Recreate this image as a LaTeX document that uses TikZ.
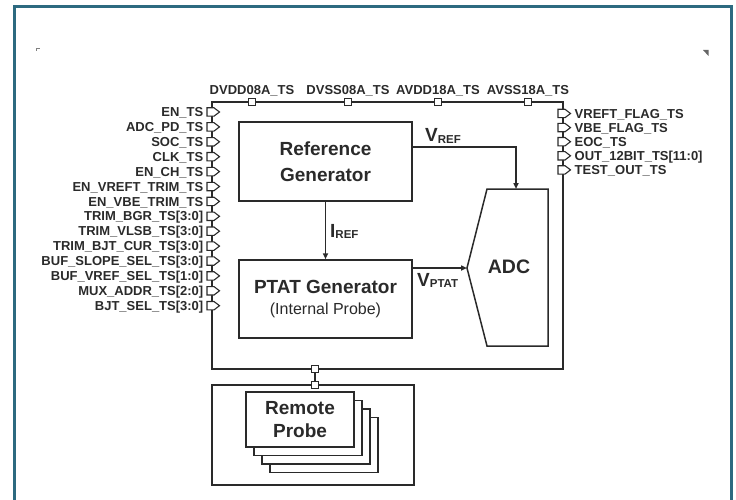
\documentclass[tikz,border=0pt]{standalone}
\usepackage{fontspec}
\setmainfont{Liberation Sans}
\usetikzlibrary{arrows.meta}

\definecolor{framecol}{HTML}{2D6A80}
\definecolor{ink}{HTML}{2A2A2A}

% big letter with a small subscript
\newcommand{\sigsub}[2]{{\fontsize{19}{19}\selectfont\bfseries #1}{\fontsize{11.5}{11.5}\selectfont\bfseries\raisebox{-1.5pt}{#2}}}

\begin{document}
\begin{tikzpicture}[x=1pt, y=-1pt,
  wire/.style={draw=ink, line width=1.5pt},
  blk/.style={draw=ink, line width=1.5pt, fill=white, align=center, text=ink,
              font=\fontsize{19}{26}\selectfont\bfseries, inner sep=0pt},
  pinlbl/.style={font=\fontsize{13}{13}\selectfont\bfseries, text=ink, inner sep=0pt},
  sq/.style={draw=ink, line width=1.2pt, fill=white, minimum size=7pt, inner sep=0pt},
  pinio/.pic={\draw[draw=ink, line width=1.1pt, fill=white]
              (-5,-4.2) -- (2,-4.2) -- (7.5,0) -- (2,4.2) -- (-5,4.2) -- cycle;},
  >={Triangle[length=6pt,width=5pt]}]
\useasboundingbox (0,0) rectangle (736,500);
\draw[framecol, line width=3pt] (14,7) rectangle (731,510);
% corner marks
\fill[gray] (36,48) rectangle (39.5,49.3);
\fill[gray] (36,48) rectangle (37.3,51.5);
\fill[gray!80!black] (703,50) -- (708.5,50) -- (708.5,56) -- cycle;

% bus frame
\coordinate (busnw) at (212,102);
\coordinate (busse) at (563,369);
\draw[wire] (busnw) rectangle (busse);

% top supply pins
\foreach \x/\t in {252/DVDD08A\_TS, 348/DVSS08A\_TS, 438/AVDD18A\_TS, 528/AVSS18A\_TS}{
  \node[sq] (s\x) at (\x,102) {};
  \node[pinlbl, anchor=base] (t\x) at (\x,95) {\t};
}

% left input pins
\foreach \t [count=\i from 0] in {EN\_TS, ADC\_PD\_TS, SOC\_TS, CLK\_TS, EN\_CH\_TS,
  EN\_VREFT\_TRIM\_TS, EN\_VBE\_TRIM\_TS, TRIM\_BGR\_TS[3:0], TRIM\_VLSB\_TS[3:0],
  TRIM\_BJT\_CUR\_TS[3:0], BUF\_SLOPE\_SEL\_TS[3:0], BUF\_VREF\_SEL\_TS[1:0],
  MUX\_ADDR\_TS[2:0], BJT\_SEL\_TS[3:0]}{
  \pgfmathsetmacro\yy{112+14.9*\i}
  \pic at (212,\yy) {pinio};
  \node[pinlbl, anchor=base east] (in\i) at (203.5,\yy+4.6) {\t};
}

% right output pins
\foreach \t [count=\i from 0] in {VREFT\_FLAG\_TS, VBE\_FLAG\_TS, EOC\_TS,
  OUT\_12BIT\_TS[11:0], TEST\_OUT\_TS}{
  \pgfmathsetmacro\yy{113.5+14.1*\i}
  \pic at (563,\yy) {pinio};
  \node[pinlbl, anchor=base west] (out\i) at (574.5,\yy+4.6) {\t};
}

% blocks
\node[blk, minimum width=173pt, minimum height=79pt] (refgen) at (325.5,161.5) {Reference\\Generator};
\node[blk, minimum width=173pt, minimum height=78pt, font=\fontsize{19}{21}\selectfont\bfseries]
  (ptat) at (325.5,299) {PTAT Generator\\{\fontsize{16}{16}\selectfont\mdseries (Internal Probe)}};

\coordinate (adctl) at (487,189);
\coordinate (adctr) at (548,189);
\coordinate (adcbr) at (548,346);
\coordinate (adcbl) at (487,346);
\coordinate (adctip) at (467,268);
\draw[wire, fill=white] (adctl) -- (adctr) -- (adcbr) -- (adcbl) -- (adctip) -- cycle;
\node[text=ink, font=\fontsize{19.5}{19.5}\selectfont\bfseries, inner sep=0pt] (adc) at (509,267) {ADC};
\coordinate (vrefin) at (516,189);

% signals
\draw[wire, ->] ([yshift=14.5pt]refgen.east) -| (vrefin);
\node[text=ink, inner sep=0pt, anchor=base west] (vref) at (425,142) {\sigsub{V}{REF}};
\draw[wire, ->] (refgen.south) -- (ptat.north);
\node[text=ink, inner sep=0pt, anchor=base west] (iref) at (330,237) {\sigsub{I}{REF}};
\draw[wire, ->] ([yshift=31pt]ptat.east) -- (adctip);
\node[text=ink, inner sep=0pt, anchor=base west] (vptat) at (417,286) {\sigsub{V}{PTAT}};

% remote probe
\node[draw=ink, line width=1.5pt, minimum width=202pt, minimum height=100pt] (remote) at (313,435) {};
\foreach \k in {3,2,1}
  \draw[wire, fill=white] (246+8*\k,392+8.5*\k) rectangle +(108,55);
\node[blk, minimum width=108pt, minimum height=55pt, font=\fontsize{19}{23}\selectfont\bfseries]
  (probe) at (300,419.5) {Remote\\Probe};
\node[sq] (bsq) at (315,369) {};
\node[sq] (rsq) at (315,385) {};
\draw[wire] (bsq) -- (rsq);
\end{tikzpicture}
\end{document}
